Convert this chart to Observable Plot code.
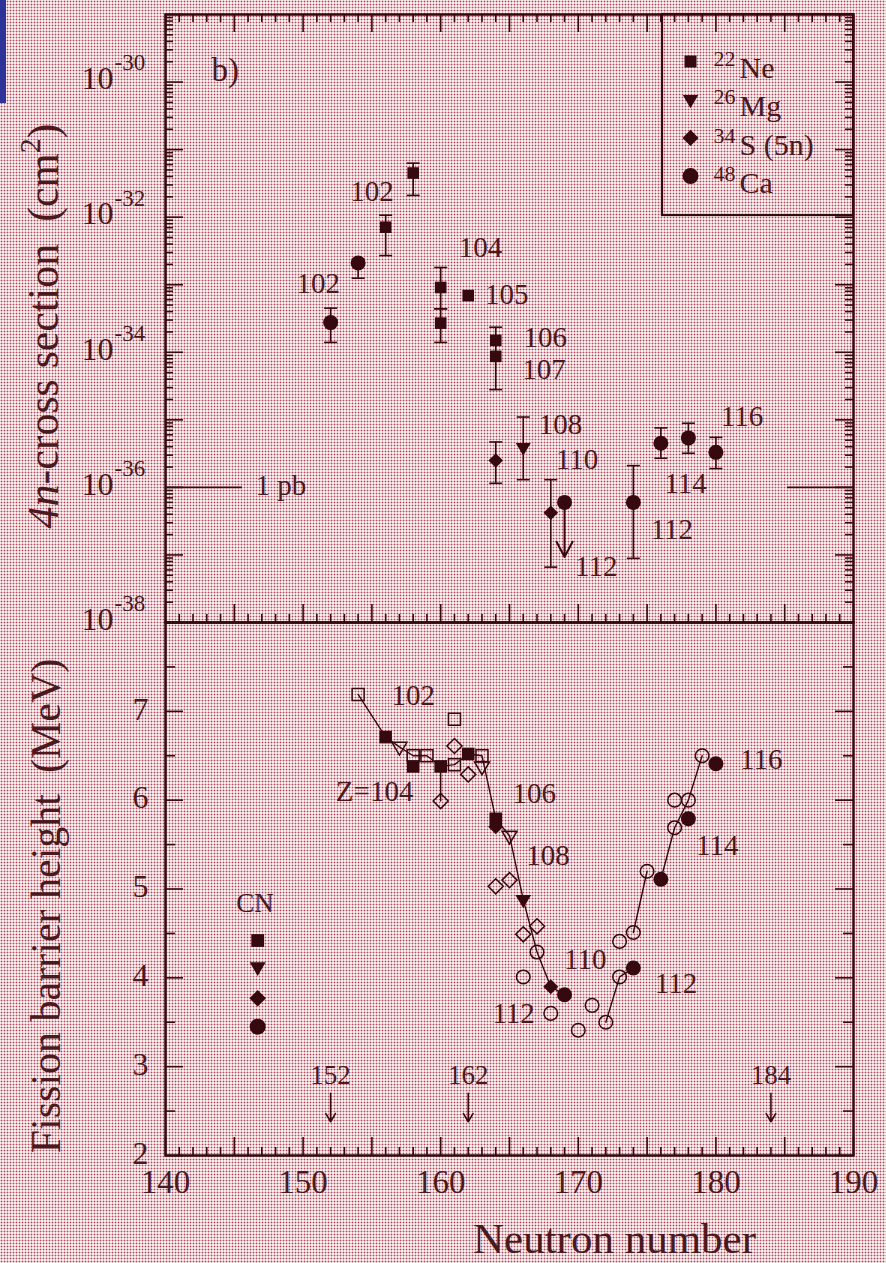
<!DOCTYPE html>
<html>
<head>
<meta charset="utf-8">
<script src="https://cdn.jsdelivr.net/npm/d3@7"></script>
<script src="https://cdn.jsdelivr.net/npm/@observablehq/plot@0.6"></script>
<style>
  html, body { margin: 0; padding: 0; }
  #page {
    position: relative; width: 886px; height: 1263px; overflow: hidden;
    background-color: #fbedee;
    background-image: radial-gradient(circle at center, #b0485a 0 0.8px, transparent 1.1px);
    background-size: 3px 3px;
  }
  #page svg { position: absolute; left: 0; overflow: visible; }
  #edge { position: absolute; left: 0; top: 0; width: 6px; height: 103px; background: #2c3399; }
</style>
</head>
<body>
<div id="page"><div id="edge"></div></div>
<script>
// ---------------- data ----------------
// neutron-number axis
const nDomain = [140, 190];
const nMajor = d3.range(140, 191, 5);
const nMinor = d3.range(140, 191).filter(n => n % 5 !== 0);
const nTickLabels = [140, 150, 160, 170, 180, 190];

// 4n cross-section axis (cm^2)
const sigmaDomain = [1e-38, 1e-29];
const sigmaDecadeExps = d3.range(-38, -28);
const sigmaLabelExps = [-30, -32, -34, -36, -38];
const onePb = 1e-36;

// measured 4n cross sections, cm^2 (lo/hi = error bar)
const ne22 = [
  {N: 156, s: 7.1e-33, lo: 2.7e-33, hi: 1.07e-32},
  {N: 158, s: 4.5e-32, lo: 2.1e-32, hi: 6.3e-32},
  {N: 160, s: 9.1e-34, lo: 4.4e-34, hi: 1.8e-33},
  {N: 160, s: 2.7e-34, lo: 1.4e-34, hi: 4.4e-34},
  {N: 162, s: 6.9e-34},
  {N: 164, s: 1.5e-34},
  {N: 164, s: 8.7e-35, lo: 2.8e-35, hi: 2.35e-34}
];
const mg26 = [
  {N: 166, s: 3.9e-36, lo: 1.3e-36, hi: 1.1e-35}
];
const s34 = [
  {N: 164, s: 2.5e-36, lo: 1.15e-36, hi: 4.7e-36},
  {N: 168, s: 4.2e-37, lo: 6.6e-38, hi: 1.3e-36}
];
const ca48 = [
  {N: 152, s: 2.75e-34, lo: 1.4e-34, hi: 4.5e-34},
  {N: 154, s: 2.1e-33, lo: 1.25e-33, hi: 2.4e-33},
  {N: 169, s: 6.0e-37, limit: 9.3e-38},
  {N: 174, s: 6.0e-37, lo: 8.9e-38, hi: 2.1e-36},
  {N: 176, s: 4.5e-36, lo: 2.7e-36, hi: 7.6e-36},
  {N: 178, s: 5.4e-36, lo: 3.2e-36, hi: 8.9e-36},
  {N: 180, s: 3.3e-36, lo: 1.9e-36, hi: 5.5e-36}
];
// proton numbers written next to the cross sections
const sigmaZLabels = [
  {text: "102", N: 151.1, s: 1.05e-33},
  {text: "102", N: 155.0, s: 2.4e-32},
  {text: "104", N: 162.9, s: 3.5e-33},
  {text: "105", N: 164.8, s: 7.2e-34},
  {text: "106", N: 167.6, s: 1.66e-34},
  {text: "107", N: 167.5, s: 5.6e-35},
  {text: "108", N: 168.7, s: 8.5e-36},
  {text: "110", N: 169.9, s: 2.6e-36},
  {text: "112", N: 171.3, s: 6.8e-38},
  {text: "112", N: 176.8, s: 2.4e-37},
  {text: "114", N: 177.8, s: 1.12e-36},
  {text: "116", N: 181.9, s: 1.1e-35}
];
const legendMass = ["22", "26", "34", "48"];
const legendBeam = ["Ne", "Mg", "S (5n)", "Ca"];
const legendShape = ["square", "triDown", "diamond", "circle"];

// fission barrier heights, MeV : [N, B_f]
const eDomain = [2, 8];
const eTicks = d3.range(2, 8.01, 0.5);
const eTickLabels = [2, 3, 4, 5, 6, 7];
// compound nuclei of the measured reactions (filled symbols)
const cnSquares = [[156, 6.71], [158, 6.38], [160, 6.38], [162, 6.52], [164, 5.79]];
const cnTriangles = [[166, 4.88]];
const cnDiamonds = [[164, 5.70], [168, 3.90]];
const cnCircles = [[169, 3.81], [174, 4.11], [176, 5.11], [178, 5.79], [180, 6.41]];
// neighbouring isotopes (open symbols)
const isoSquares = [[154, 7.19], [158, 6.50], [159, 6.50], [161, 6.91], [161, 6.40], [163, 6.50]];
const isoTriangles = [[157, 6.60], [163, 6.38], [165, 5.60]];
const isoDiamonds = [[161, 6.61], [162, 6.29], [160, 5.99], [164, 5.03], [165, 5.10], [166, 4.49], [167, 4.58]];
const isoCircles = [[167, 4.29], [166, 4.01], [168, 3.60], [170, 3.41], [171, 3.69], [172, 3.50],
  [173, 4.01], [173, 4.41], [174, 4.51], [175, 5.20], [177, 5.69], [177, 6.00], [178, 6.00], [179, 6.50]];
// isotope chains joined by lines
const chains = [
  [[154, 7.19], [156, 6.71], [157, 6.60], [158, 6.50], [159, 6.50], [160, 6.38], [161, 6.40],
   [162, 6.52], [163, 6.50], [164, 5.79], [165, 5.60], [166, 4.88], [167, 4.29], [168, 3.90], [169, 3.81]],
  [[160, 6.38], [160, 5.99]],
  [[172, 3.50], [173, 4.01], [174, 4.11]],
  [[174, 4.51], [175, 5.20]],
  [[176, 5.11], [177, 5.69], [178, 6.00], [179, 6.50]]
];
const barrierZLabels = [
  {text: "102", N: 158.0, E: 7.18},
  {text: "Z=104", N: 155.2, E: 6.10},
  {text: "106", N: 166.8, E: 6.07},
  {text: "108", N: 167.8, E: 5.37},
  {text: "110", N: 170.5, E: 4.20},
  {text: "112", N: 165.3, E: 3.60},
  {text: "112", N: 177.1, E: 3.93},
  {text: "114", N: 180.1, E: 5.49},
  {text: "116", N: 183.3, E: 6.46}
];
// key of the compound-nucleus symbols
const cnKeyN = 146.7;
const cnKey = [
  {shape: "square", E: 4.42},
  {shape: "triDown", E: 4.12},
  {shape: "diamond", E: 3.77},
  {shape: "circle", E: 3.45}
];
const cnKeyTitle = {text: "CN", N: 146.5, E: 4.84};
// magic / semi-magic neutron numbers
const shellClosures = [152, 162, 184];
const closureArrow = {from: 2.70, to: 2.38, label: 2.90};

// ---------------- styling ----------------
const INK = "#35090e";
const TEXT = "#4a191e";
const FONT = "Liberation Serif, Times New Roman, DejaVu Serif, serif";
const W = 886, ML = 165, MR = 33, PW = W - ML - MR;
const TOP_H = 640, TOP_MT = 14, TOP_MB = 18, TOP_PH = TOP_H - TOP_MT - TOP_MB;
const LOW_TOP = 604, LOW_H = 1263 - LOW_TOP, LOW_MT = 18, LOW_MB = 108, LOW_PH = LOW_H - LOW_MT - LOW_MB;

const rOf = size => Math.sqrt(size / Math.PI);
const symbols = {
  square: {draw(c, size) { const a = rOf(size); c.rect(-a, -a, 2 * a, 2 * a); }},
  diamond: {draw(c, size) { const a = rOf(size) * 1.3; c.moveTo(0, -a); c.lineTo(a, 0); c.lineTo(0, a); c.lineTo(-a, 0); c.closePath(); }},
  triDown: {draw(c, size) { const a = rOf(size) * 1.25; c.moveTo(-a, -a * 0.6); c.lineTo(a, -a * 0.6); c.lineTo(0, a * 1.1); c.closePath(); }},
  circle: {draw(c, size) { const a = rOf(size); c.moveTo(a, 0); c.arc(0, 0, a, 0, 2 * Math.PI); }},
  cap: {draw(c, size) { const a = rOf(size); c.moveTo(-a, 0); c.lineTo(a, 0); }}
};
const solid = {fill: INK, stroke: "none"};
const hollow = {fill: "none", stroke: INK, strokeWidth: 1.5};
const txt = {fill: TEXT, fontFamily: FONT, stroke: "none"};
const tickStyle = {stroke: INK, strokeWidth: 1.6};

function frameTicks(ph, xs, ys, withTop = true) {
  const out = [];
  for (const [vals, len] of xs) {
    out.push(Plot.tickX(vals, {x: d => d, insetTop: ph - len, ...tickStyle}));
    if (withTop) out.push(Plot.tickX(vals, {x: d => d, insetBottom: ph - len, ...tickStyle}));
  }
  for (const [vals, len] of ys) {
    out.push(Plot.tickY(vals, {y: d => d, insetRight: PW - len, ...tickStyle}));
    out.push(Plot.tickY(vals, {y: d => d, insetLeft: PW - len, ...tickStyle}));
  }
  return out;
}

function errorBars(series) {
  const withBars = series.filter(d => d.lo != null);
  return [
    Plot.ruleX(withBars, {x: "N", y1: "lo", y2: "hi", stroke: INK, strokeWidth: 1.6}),
    Plot.dot(withBars, {x: "N", y: "lo", symbol: symbols.cap, r: 6.5, fill: "none", stroke: INK, strokeWidth: 1.6}),
    Plot.dot(withBars, {x: "N", y: "hi", symbol: symbols.cap, r: 6.5, fill: "none", stroke: INK, strokeWidth: 1.6})
  ];
}

// ---------------- upper panel: 4n cross sections ----------------
const sigmaMajor = sigmaDecadeExps.map(e => 10 ** e);
const sigmaMinor = sigmaDecadeExps.slice(0, -1).flatMap(e => d3.range(2, 10).map(m => m * 10 ** e));

const legendMarks = legendShape.map((shape, i) => [
  Plot.dot([shape], {frameAnchor: "top-left", dx: 525, dy: 47 + 38.2 * i, symbol: symbols[shape],
    r: shape === "square" ? 6 : shape === "circle" ? 8 : 6.2, ...solid}),
  Plot.text([legendMass[i]], {frameAnchor: "top-left", dx: 548, dy: 51 + 38.5 * i, text: d => d,
    textAnchor: "start", lineAnchor: "bottom", fontSize: 22, ...txt}),
  Plot.text([legendBeam[i]], {frameAnchor: "top-left", dx: 574, dy: 63 + 38.5 * i, text: d => d,
    textAnchor: "start", lineAnchor: "bottom", fontSize: 30, ...txt})
]);

const upper = Plot.plot({
  width: W, height: TOP_H,
  marginTop: TOP_MT, marginBottom: TOP_MB, marginLeft: ML, marginRight: MR,
  x: {domain: nDomain, axis: null},
  y: {type: "log", domain: sigmaDomain, axis: null},
  style: {background: "transparent", overflow: "visible", fontFamily: FONT},
  marks: [
    ...frameTicks(TOP_PH, [[nMinor, 8], [nMajor, 18]], [[sigmaMinor, 8], [sigmaMajor, 18]]),
    Plot.frame({stroke: INK, strokeWidth: 2.5}),
    // decade labels 10^e
    Plot.text(sigmaLabelExps, {y: e => 10 ** e, text: () => "10", frameAnchor: "left", dx: -52, dy: -3,
      textAnchor: "end", fontSize: 32, ...txt}),
    Plot.text(sigmaLabelExps, {y: e => 10 ** e, text: e => String(e), frameAnchor: "left", dx: -51, dy: -19,
      textAnchor: "start", fontSize: 23, ...txt}),
    // 1 pb reference
    Plot.ruleY([onePb], {insetRight: PW - 77, stroke: INK, strokeWidth: 1.6}),
    Plot.ruleY([onePb], {insetLeft: PW - 66, stroke: INK, strokeWidth: 1.6}),
    Plot.text([onePb], {y: d => d, text: () => "1 pb", frameAnchor: "left", dx: 90, dy: -2,
      textAnchor: "start", fontSize: 29, ...txt}),
    Plot.text(["b)"], {frameAnchor: "top-left", dx: 46, dy: 66, text: d => d, textAnchor: "start",
      lineAnchor: "bottom", fontSize: 33, ...txt}),
    // error bars and points
    ...errorBars(ne22), ...errorBars(mg26), ...errorBars(s34), ...errorBars(ca48),
    Plot.arrow(ca48.filter(d => d.limit != null), {x1: "N", x2: "N", y1: "s", y2: "limit",
      insetStart: 6, headLength: 13, headAngle: 55, stroke: INK, strokeWidth: 2}),
    Plot.dot(ne22, {x: "N", y: "s", symbol: symbols.square, r: 5.8, ...solid}),
    Plot.dot(mg26, {x: "N", y: "s", symbol: symbols.triDown, r: 6, ...solid}),
    Plot.dot(s34, {x: "N", y: "s", symbol: symbols.diamond, r: 5.6, ...solid}),
    Plot.dot(ca48, {x: "N", y: "s", symbol: symbols.circle, r: 7.5, ...solid}),
    Plot.text(sigmaZLabels, {x: "N", y: "s", text: "text", fontSize: 29, ...txt}),
    ...legendMarks
  ]
});
upper.style.top = "0px";

// ---------------- lower panel: fission barriers ----------------
const eMajor = eTicks.filter(v => Number.isInteger(v));
const eMinor = eTicks.filter(v => !Number.isInteger(v));
const xy = {x: d => d[0], y: d => d[1]};
const chainPoints = chains.flatMap((c, k) => c.map(([N, E]) => ({N, E, k})));

const lower = Plot.plot({
  width: W, height: LOW_H,
  marginTop: LOW_MT, marginBottom: LOW_MB, marginLeft: ML, marginRight: MR,
  x: {domain: nDomain, axis: null},
  y: {domain: eDomain, axis: null},
  style: {background: "transparent", overflow: "visible", fontFamily: FONT},
  marks: [
    ...frameTicks(LOW_PH, [[nMinor, 8], [nMajor, 18]], [[eMinor, 10], [eMajor, 18]], false),
    Plot.frame({stroke: INK, strokeWidth: 2.5}),
    Plot.line(chainPoints, {x: "N", y: "E", z: "k", stroke: INK, strokeWidth: 1.4}),
    Plot.dot(isoSquares, {...xy, symbol: symbols.square, r: 6, ...hollow}),
    Plot.dot(isoTriangles, {...xy, symbol: symbols.triDown, r: 6, ...hollow}),
    Plot.dot(isoDiamonds, {...xy, symbol: symbols.diamond, r: 5.8, ...hollow}),
    Plot.dot(isoCircles, {...xy, symbol: symbols.circle, r: 6.8, ...hollow}),
    Plot.dot(cnSquares, {...xy, symbol: symbols.square, r: 6.3, ...solid}),
    Plot.dot(cnTriangles, {...xy, symbol: symbols.triDown, r: 6.3, ...solid}),
    Plot.dot(cnDiamonds, {...xy, symbol: symbols.diamond, r: 5.8, ...solid}),
    Plot.dot(cnCircles, {...xy, symbol: symbols.circle, r: 7.5, ...solid}),
    Plot.text(barrierZLabels, {x: "N", y: "E", text: "text", fontSize: 29, ...txt}),
    // compound-nucleus key
    Plot.text([cnKeyTitle], {x: "N", y: "E", text: "text", fontSize: 27, ...txt}),
    ...cnKey.map(d => Plot.dot([d], {x: () => cnKeyN, y: "E", symbol: symbols[d.shape],
      r: d.shape === "circle" ? 8 : 6.4, ...solid})),
    // shell closures
    Plot.arrow(shellClosures, {x1: d => d, x2: d => d, y1: () => closureArrow.from, y2: () => closureArrow.to,
      headLength: 11, headAngle: 60, stroke: INK, strokeWidth: 1.6}),
    Plot.text(shellClosures, {x: d => d, y: () => closureArrow.label, text: d => String(d), fontSize: 27, ...txt}),
    // tick labels
    Plot.text(eTickLabels, {y: d => d, text: d => String(d), frameAnchor: "left", dx: -17, dy: -2,
      textAnchor: "end", fontSize: 32, ...txt}),
    Plot.text(nTickLabels, {x: d => d, text: d => String(d), frameAnchor: "bottom", dy: 37,
      fontSize: 33, ...txt}),
    // axis titles
    Plot.text(["Neutron number"], {frameAnchor: "bottom", dx: 105, dy: 97, text: d => d,
      textAnchor: "middle", lineAnchor: "bottom", fontSize: 43, ...txt}),
    Plot.text(["Fission barrier height  (MeV)"], {frameAnchor: "left", dx: -106, dy: 17, rotate: -90,
      text: d => d, textAnchor: "middle", lineAnchor: "bottom", fontSize: 42, ...txt})
  ]
});
lower.style.top = LOW_TOP + "px";

const page = document.getElementById("page");
page.appendChild(upper);
page.appendChild(lower);

// legend frame and the rich-text title of the upper panel
const svgTop = d3.select(upper);
svgTop.append("rect")
  .attr("x", 662).attr("y", TOP_MT).attr("width", W - MR - 662).attr("height", 215 - TOP_MT)
  .attr("fill", "none").attr("stroke", INK).attr("stroke-width", 2.2);
const title = svgTop.append("text")
  .attr("transform", "translate(58,326) rotate(-90)")
  .attr("text-anchor", "middle")
  .attr("font-family", FONT).attr("font-size", 44).attr("fill", TEXT);
title.append("tspan").attr("font-style", "italic").text("4n");
title.append("tspan").text("-cross section  (cm");
title.append("tspan").attr("font-size", 30).attr("dy", -18).text("2");
title.append("tspan").attr("dy", 18).text(")");
</script>
</body>
</html>
